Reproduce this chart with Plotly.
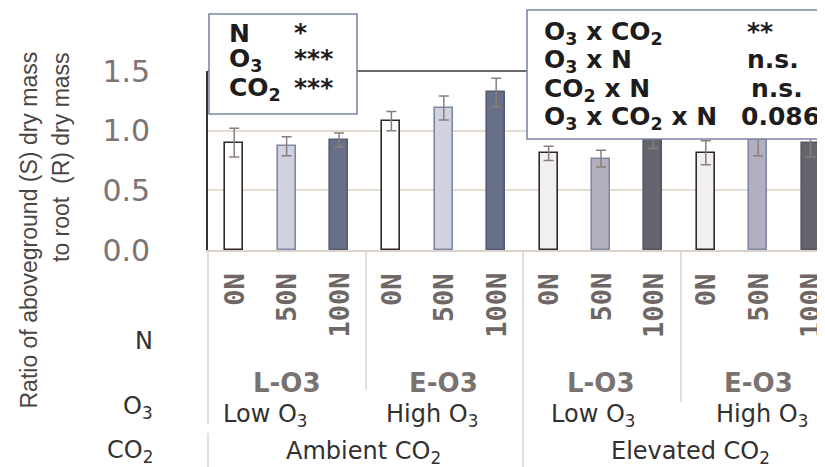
import plotly.graph_objects as go

# ---------------- data ----------------
n_labels = ["0N", "50N", "100N"] * 4
o3_labels = ["L-O3", "E-O3", "L-O3", "E-O3"]
o3_names = ["Low O<sub>3</sub>", "High O<sub>3</sub>", "Low O<sub>3</sub>", "High O<sub>3</sub>"]
co2_names = ["Ambient CO<sub>2</sub>", "Elevated CO<sub>2</sub>"]
ratio = [0.90, 0.87, 0.92, 1.08, 1.19, 1.32, 0.81, 0.765, 0.92, 0.815, 0.92, 0.90]
ratio_err = [0.12, 0.08, 0.06, 0.08, 0.10, 0.12, 0.06, 0.07, 0.07, 0.10, 0.13, 0.12]
ytick_vals = [0.0, 0.5, 1.0, 1.5]
ytick_text = ["0.0", "0.5", "1.0", "1.5"]
main_effects = [("N", "*"), ("O<sub>3</sub>", "***"), ("CO<sub>2</sub>", "***")]
interactions = [("O<sub>3</sub> x CO<sub>2</sub>", "**"), ("O<sub>3</sub> x N", "n.s."),
                ("CO<sub>2</sub> x N", "n.s."), ("O<sub>3</sub> x CO<sub>2</sub> x N", "0.086")]

fills = ["#ffffff", "#d0d3df", "#687089", "#ffffff", "#d0d3df", "#687089",
         "#f1efef", "#b1afc0", "#66656f", "#f1efef", "#b1afc0", "#66656f"]
edges = ["#2e2a2a", "#7e88a6", "#545a70", "#2e2a2a", "#7e88a6", "#545a70",
         "#2e2a2a", "#8089a6", "#55545e", "#2e2a2a", "#8089a6", "#55545e"]

# page body margin shifts the figure by 8px; work in reference-pixel coords
OFF = 8
W, H = 825 - OFF, 467 - OFF
AX_X, AX_TOP, AX_BOT = 208, 71, 250           # reference pixels
L, T = AX_X - OFF, AX_TOP - OFF
B = H - (AX_BOT - OFF)
R = 0
PW, PH = W - L - R, H - T - B
STEP = 52.4


def xp(px):
    return (px - AX_X) / PW


def yp(py):
    return (AX_BOT - py) / PH


x = list(range(len(ratio)))

fig = go.Figure()
fig.add_trace(go.Bar(
    x=x, y=ratio, width=0.34,
    marker=dict(color=fills, line=dict(color=edges, width=1.6)),
    error_y=dict(type="data", array=ratio_err, visible=True,
                 color="#8a7f78", thickness=1.5, width=5),
    showlegend=False, hoverinfo="skip",
))

fig.update_layout(
    width=W, height=H,
    margin=dict(l=L, r=R, t=T, b=B, pad=0),
    plot_bgcolor="white", paper_bgcolor="white",
    bargap=0,
    xaxis=dict(range=[-0.5, -0.5 + PW / STEP], showticklabels=False, ticks="",
               showgrid=False, zeroline=False, showline=True,
               linecolor="#dcd2ca", linewidth=1.5, fixedrange=True),
    yaxis=dict(range=[0, 1.5], tickvals=ytick_vals, ticktext=ytick_text,
               tickfont=dict(family="DejaVu Sans", size=30, color="#7d7472"),
               ticks="", ticklabelstandoff=50,
               showgrid=True, gridcolor="#e4dbd3", gridwidth=1.5,
               zeroline=False, showline=True, linecolor="#333333", linewidth=1.6,
               fixedrange=True),
)

shapes = []
# top border of plot
shapes.append(dict(type="line", xref="paper", yref="paper", x0=0, x1=1.05, y0=1, y1=1,
                   line=dict(color="#3a3636", width=1.6)))
# statistics boxes
shapes.append(dict(type="rect", xref="paper", yref="paper",
                   x0=xp(209), x1=xp(357), y0=yp(114), y1=yp(14),
                   fillcolor="white", line=dict(color="#7b87a6", width=1.6)))
shapes.append(dict(type="rect", xref="paper", yref="paper",
                   x0=xp(527), x1=xp(835), y0=yp(139), y1=yp(10),
                   fillcolor="white", line=dict(color="#7b87a6", width=1.6)))
# table dividers below the axis
div = "#dbd2cb"
for (px, y0, y1) in [(208, 250, 424), (208, 433, 470), (366, 250, 390),
                     (523, 250, 470), (681, 250, 402)]:
    shapes.append(dict(type="line", xref="paper", yref="paper",
                       x0=xp(px), x1=xp(px), y0=yp(y0), y1=yp(y1),
                       line=dict(color=div, width=1.5)))
fig.update_layout(shapes=shapes)

ann = []
# y-axis title (two lines, rotated)
ann.append(dict(text="Ratio of aboveground (S) dry mass", xref="paper", yref="paper",
                x=xp(28), y=yp(50), xanchor="center", yanchor="top", textangle=-90,
                showarrow=False, font=dict(family="Liberation Sans", size=23, color="#4a4646")))
ann.append(dict(text="to root  (R) dry mass", xref="paper", yref="paper",
                x=xp(61), y=yp(50), xanchor="center", yanchor="top", textangle=-90,
                showarrow=False, font=dict(family="Liberation Sans", size=23, color="#4a4646")))

# main effects box
box_font = dict(family="DejaVu Sans", size=25, color="#1e1c1c")
for (lab, sig), py in zip(main_effects, [34, 60, 89]):
    ann.append(dict(text="<b>%s</b>" % lab, xref="paper", yref="paper", x=xp(227), y=yp(py),
                    xanchor="left", yanchor="middle", showarrow=False, font=box_font))
    ann.append(dict(text="<b>%s</b>" % sig, xref="paper", yref="paper", x=xp(292), y=yp(py - 2),
                    xanchor="left", yanchor="middle", showarrow=False, font=box_font))
# interactions box
for (lab, sig), py, cx in zip(interactions, [33, 61, 90, 118], [760, 773, 777, 780]):
    ann.append(dict(text="<b>%s</b>" % lab, xref="paper", yref="paper", x=xp(542), y=yp(py),
                    xanchor="left", yanchor="middle", showarrow=False, font=box_font))
    ann.append(dict(text="<b>%s</b>" % sig, xref="paper", yref="paper", x=xp(cx), y=yp(py - 2),
                    xanchor="center", yanchor="middle", showarrow=False, font=box_font))

# N level labels (rotated)
for i, lab in enumerate(n_labels):
    ann.append(dict(text="<b>%s</b>" % lab, xref="x", yref="paper", x=i, y=yp(271),
                    xanchor="center", yanchor="top", textangle=-90, showarrow=False,
                    font=dict(family="DejaVu Sans Mono", size=27, color="#6f6765")))

# O3 codes and names
for g, code in enumerate(o3_labels):
    ann.append(dict(text="<b>%s</b>" % code, xref="x", yref="paper", x=3 * g + 1, y=yp(383),
                    xanchor="center", yanchor="middle", showarrow=False,
                    font=dict(family="DejaVu Sans", size=26, color="#7a7270")))
name_px = [265, 432, 593, 762]
for name, px in zip(o3_names, name_px):
    ann.append(dict(text=name, xref="paper", yref="paper", x=xp(px), y=yp(415),
                    xanchor="center", yanchor="middle", showarrow=False,
                    font=dict(family="DejaVu Sans", size=24, color="#333030")))
for name, px in zip(co2_names, [363, 690]):
    ann.append(dict(text=name, xref="paper", yref="paper", x=xp(px), y=yp(452),
                    xanchor="center", yanchor="middle", showarrow=False,
                    font=dict(family="DejaVu Sans", size=24, color="#333030")))

# row headers at left
for lab, py in [("N", 341), ("O<sub>3</sub>", 407), ("CO<sub>2</sub>", 451)]:
    ann.append(dict(text=lab, xref="paper", yref="paper", x=xp(155), y=yp(py),
                    xanchor="right", yanchor="middle", showarrow=False,
                    font=dict(family="DejaVu Sans", size=24, color="#333030")))

fig.update_layout(annotations=ann)
fig.write_html("out.html")
